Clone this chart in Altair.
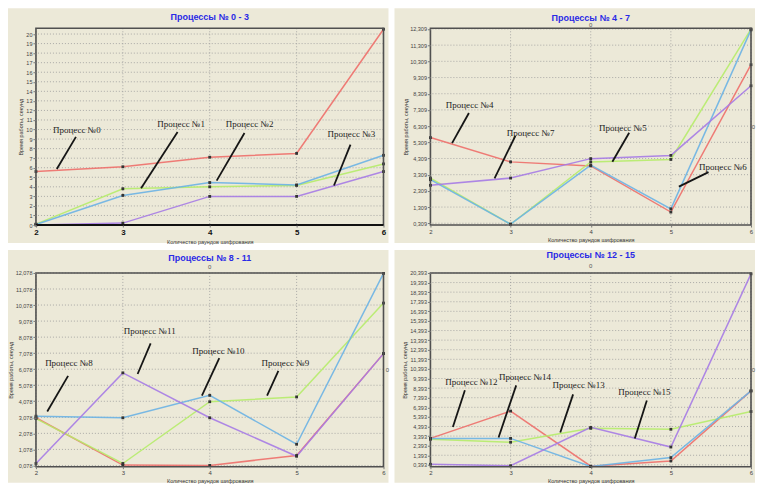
import altair as alt
import pandas as pd

BEIGE = "#ECE9D8"
COLORS = ["#EE6F6A", "#B6EC6A", "#6CB2E4", "#A67BE6"]
SERIES = ["a", "b", "c", "d"]

rounds = [2, 3, 4, 5, 6]

# ---- Процессы № 0 - 3
p0_red = [5.6, 6.1, 7.1, 7.5, 20.5]
p0_green = [0.1, 3.8, 4.0, 4.15, 6.4]
p0_blue = [0.05, 3.1, 4.45, 4.2, 7.3]
p0_purple = [0.0, 0.2, 3.0, 3.0, 5.6]
p0_ticks = [0, 1, 2, 3, 4, 5, 6, 7, 8, 9, 10, 11, 12, 13, 14, 15, 16, 17, 18, 19, 20]
p0_text = ["Процесс №0", "Процесс №1", "Процесс №2", "Процесс №3"]
p0_tx = [2.47, 3.67, 4.46, 5.63]
p0_ty = [10.0, 10.55, 10.55, 9.53]
p0_px1 = [2.46, 3.63, 4.40, 5.62]
p0_py1 = [9.23, 9.74, 9.63, 8.41]
p0_px2 = [2.24, 3.21, 4.08, 5.43]
p0_py2 = [5.87, 3.84, 4.65, 4.14]

# ---- Процессы № 4 - 7
p1_red = [5.6, 4.1, 3.85, 1.0, 10.1]
p1_green = [3.1, 0.25, 4.1, 4.25, 12.3]
p1_blue = [3.0, 0.25, 3.9, 1.2, 12.25]
p1_purple = [2.65, 3.1, 4.3, 4.5, 8.8]
p1_ticks = [0.309, 1.309, 2.309, 3.309, 4.309, 5.309, 6.309, 7.309, 8.309,
            9.309, 10.309, 11.309, 12.309]
p1_text = ["Процесс №4", "Процесс №7", "Процесс №5", "Процесс №6"]
p1_tx = [2.49, 3.25, 4.40, 5.65]
p1_ty = [7.64, 5.9, 6.22, 3.79]
p1_px1 = [2.48, 3.06, 4.48, 5.47]
p1_py1 = [7.12, 5.71, 5.9, 3.47]
p1_px2 = [2.27, 2.80, 4.27, 5.10]
p1_py2 = [5.26, 3.08, 4.11, 2.57]

# ---- Процессы № 8 - 11
p2_red = [3.05, 0.1, 0.08, 0.7, 7.05]
p2_green = [3.0, 0.2, 4.05, 4.35, 10.2]
p2_blue = [3.15, 3.05, 4.45, 1.4, 12.05]
p2_purple = [0.2, 5.85, 3.05, 0.65, 7.05]
p2_ticks = [0.078, 1.078, 2.078, 3.078, 4.078, 5.078, 6.078, 7.078, 8.078,
            9.078, 10.078, 11.078, 12.078]
p2_text = ["Процесс №8", "Процесс №11", "Процесс №10", "Процесс №9"]
p2_tx = [2.38, 3.31, 4.10, 4.87]
p2_ty = [6.46, 8.43, 7.2, 6.46]
p2_px1 = [2.37, 3.32, 4.11, 4.79]
p2_py1 = [5.66, 7.69, 6.77, 5.97]
p2_px2 = [2.13, 3.17, 3.91, 4.66]
p2_py2 = [3.44, 5.78, 4.43, 4.43]

# ---- Процессы № 12 - 15
p3_red = [3.15, 6.0, 0.25, 0.8, 8.1]
p3_green = [3.05, 2.75, 4.2, 4.1, 5.95]
p3_blue = [3.15, 3.15, 0.22, 1.15, 8.1]
p3_purple = [0.45, 0.3, 4.3, 2.25, 20.3]
p3_ticks = [0.393, 1.393, 2.393, 3.393, 4.393, 5.393, 6.393, 7.393, 8.393,
            9.393, 10.393, 11.393, 12.393, 13.393, 14.393, 15.393, 16.393,
            17.393, 18.393, 19.393, 20.393]
p3_text = ["Процесс №12", "Процесс №14", "Процесс №13", "Процесс №15"]
p3_tx = [2.51, 3.18, 3.85, 4.67]
p3_ty = [9.0, 9.51, 8.68, 7.95]
p3_px1 = [2.43, 3.07, 3.78, 4.70]
p3_py1 = [8.16, 8.68, 7.74, 7.11]
p3_px2 = [2.28, 2.85, 3.62, 4.55]
p3_py2 = [4.33, 3.25, 3.77, 3.14]

TITLES = ["Процессы № 0 - 3", "Процессы № 4 - 7", "Процессы № 8 - 11", "Процессы № 12 - 15"]
Y_TITLE = "Время работы, секунд"
X_TITLE = "Количество раундов шифрования"


def panel(title, vals, ydom, yticks, comma, tx, ty, text, px1, py1, px2, py2,
          w, h, card, title_y, zeros, bold_x, thick_bottom, ytitle_x):
    rows = []
    for s, v in zip(SERIES, vals):
        for r, y in zip(rounds, v):
            rows.append({"r": r, "v": y, "s": s})
    df = pd.DataFrame(rows)

    xs = alt.Scale(domain=[2, 6], nice=False, zero=False)
    ys = alt.Scale(domain=ydom, nice=False, zero=False)
    lab_expr = ("replace(format(datum.value, '.3f'), '.', ',')" if comma
                else "format(datum.value, 'd')")
    yax = alt.Axis(values=yticks, grid=False, labelExpr=lab_expr, labelFontSize=5.5,
                   labelColor="#444", labelFont="Liberation Sans", tickSize=3,
                   tickColor="#777", labelPadding=1, domain=False, labelOverlap=False,
                   title=Y_TITLE, titleFontSize=5.5, titleFontWeight="normal",
                   titleColor="#333", titleFont="Liberation Sans",
                   titleX=ytitle_x, titleY=h / 2, zindex=1)
    xax = alt.Axis(values=rounds, grid=False, format="d",
                   labelFontSize=8 if bold_x else 6,
                   labelFontWeight="bold" if bold_x else "normal",
                   labelColor="#111" if bold_x else "#444", labelFont="Liberation Sans",
                   tickSize=2, tickColor="#777", labelPadding=1, domain=False,
                   labelFlush=False, labelOverlap=False,
                   title=X_TITLE, titleFontSize=5.5, titleFontWeight="normal",
                   titleColor="#333", titleFont="Liberation Sans", titlePadding=3, zindex=1)
    X = alt.X("r:Q", scale=xs, axis=xax)
    Y = alt.Y("v:Q", scale=ys, axis=yax)
    color = alt.Color("s:N", scale=alt.Scale(domain=SERIES, range=COLORS), legend=None)

    one = pd.DataFrame({"k": [0]})
    cx1, cx2, cy1, cy2 = card
    bg = alt.Chart(one).mark_rect(fill=BEIGE).encode(
        x=alt.value(cx1), x2=alt.value(cx2), y=alt.value(cy1), y2=alt.value(cy2))

    hgrid = alt.Chart(pd.DataFrame({"v": yticks})).mark_rule(
        color="#9a9a9a", strokeDash=[1, 2], strokeWidth=0.8).encode(y=Y)
    vgrid = alt.Chart(pd.DataFrame({"r": rounds})).mark_rule(
        color="#9a9a9a", strokeDash=[1, 2], strokeWidth=0.8).encode(x=X)

    lines = alt.Chart(df).mark_line(strokeWidth=1.5, opacity=0.9).encode(
        x=X, y=Y, color=color, detail="s:N")
    pts = alt.Chart(df).mark_square(size=8, color="#333", opacity=1).encode(x=X, y=Y)

    ptr = alt.Chart(pd.DataFrame({"r": px1, "v": py1, "r2": px2, "v2": py2})).mark_rule(
        color="#151515", strokeWidth=1.8).encode(x=X, y=Y, x2="r2:Q", y2="v2:Q")
    ann = alt.Chart(pd.DataFrame({"r": tx, "v": ty, "t": text})).mark_text(
        font="Liberation Serif", fontSize=9, color="#222", baseline="middle").encode(
        x=X, y=Y, text="t:N")

    frame = alt.Chart(one).mark_rect(fillOpacity=0, stroke="#505050", strokeWidth=1.6).encode(
        x=alt.value(0), x2=alt.value(w), y=alt.value(0), y2=alt.value(h))

    ttl = alt.Chart(one).mark_text(font="Liberation Sans", fontSize=9, fontWeight="bold",
                                   color="#2A2AE6", baseline="middle").encode(
        x=alt.value(w / 2), y=alt.value(title_y), text=alt.value(title))

    layers = [bg, hgrid, vgrid, lines, pts, ptr, ann, frame, ttl]
    if thick_bottom:
        layers.append(alt.Chart(one).mark_rule(color="#111", strokeWidth=2).encode(
            x=alt.value(0), x2=alt.value(w), y=alt.value(h)))
    if zeros:
        ztop, zright = zeros
        layers.append(alt.Chart(one).mark_text(fontSize=6, color="#555",
                                               font="Liberation Sans").encode(
            x=alt.value(w / 2), y=alt.value(ztop), text=alt.value("0")))
        layers.append(alt.Chart(one).mark_text(fontSize=6, color="#555",
                                               font="Liberation Sans").encode(
            x=alt.value(w + zright), y=alt.value(h / 2), text=alt.value("0")))
    return alt.layer(*layers).properties(width=w, height=h)


W1, W2 = 348, 321
H1, H2 = 197, 194

c1 = panel(TITLES[0], [p0_red, p0_green, p0_blue, p0_purple], [0, 20.6], p0_ticks, False,
           p0_tx, p0_ty, p0_text, p0_px1, p0_py1, p0_px2, p0_py2,
           W1, H1, (-28, W1 + 5, -20, H1 + 18), -11, None, True, True, -12)
c2 = panel(TITLES[1], [p1_red, p1_green, p1_blue, p1_purple], [0.2, 12.35], p1_ticks, True,
           p1_tx, p1_ty, p1_text, p1_px1, p1_py1, p1_px2, p1_py2,
           W2, H1, (-36, W2 + 4, -20, H1 + 18), -10, (-3, 2.5), False, False, -22)
c3 = panel(TITLES[2], [p2_red, p2_green, p2_blue, p2_purple], [0.0, 12.078], p2_ticks, True,
           p2_tx, p2_ty, p2_text, p2_px1, p2_py1, p2_px2, p2_py2,
           W1, H2, (-28, W1 + 5, -23, H2 + 16), -15, (-6, 4), False, False, -22)
c4 = panel(TITLES[3], [p3_red, p3_green, p3_blue, p3_purple], [0.2, 20.393], p3_ticks, True,
           p3_tx, p3_ty, p3_text, p3_px1, p3_py1, p3_px2, p3_py2,
           W2, H2, (-36, W2 + 4, -23, H2 + 16), -18, (-7, 2.5), False, False, -23)

chart = alt.concat(c1, c2, c3, c4, columns=2, spacing={"row": 48, "column": 47},
                   bounds="flush").properties(
    padding=0, background="white"
).configure_view(stroke=None)

chart.save("out.html", embed_options={"renderer": "svg", "actions": False})
